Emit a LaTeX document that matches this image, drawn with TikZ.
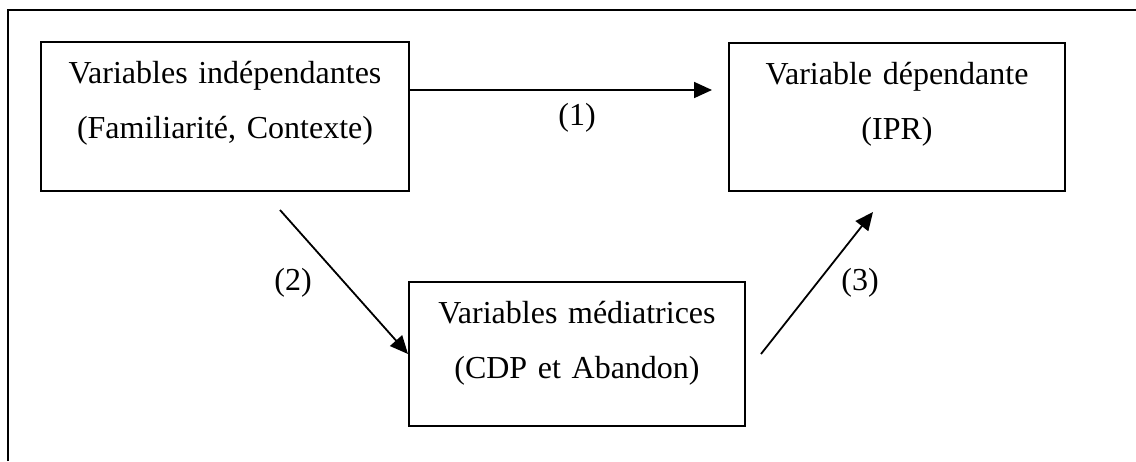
\documentclass[tikz,border=0pt]{standalone}
\usepackage{fontspec}
\setmainfont{Liberation Serif}
\usetikzlibrary{arrows.meta}

\begin{document}
\begin{tikzpicture}[
    x=0.5pt, y=-0.5pt,
    every node/.style={font=\fontsize{16}{27.5}\selectfont},
    varbox/.style={draw, line width=1pt, inner sep=0pt, anchor=north west, align=center, text height=20.5pt},
    lbl/.style={inner sep=0pt},
    link/.style={line width=0.9pt, -{Triangle[length=9pt, width=8pt]}}
]
\useasboundingbox (0,0) rectangle (1136,461);
\draw[line width=1.4pt] (8,461) -- (8,10) -- (1136,10); % cadre

\node[varbox, text width=184pt, text depth=54pt] (vi) at (40,41) {Variables indépendantes\\(Familiarité, Contexte)};
\node[varbox, text width=168pt, text depth=53.5pt] (vd) at (728,42) {Variable dépendante\\(IPR)};
\node[varbox, text width=168pt, text depth=51.5pt] (vm) at (408,281) {Variables médiatrices\\(CDP et Abandon)};

\draw[link] ([yshift=13.25pt]vi.east) -- ([xshift=-8pt, yshift=13.5pt]vd.west);
\draw[link] ([xshift=27.5pt, yshift=-9pt]vi.south) -- (vm.west);
\draw[link] ([xshift=7.5pt]vm.east) -- ([xshift=-12pt, yshift=-10pt]vd.south);

\node[lbl] (l1) at (577,118) {(1)};
\node[lbl] (l2) at (293,283) {(2)};
\node[lbl] (l3) at (860,283) {(3)};

\end{tikzpicture}
\end{document}
